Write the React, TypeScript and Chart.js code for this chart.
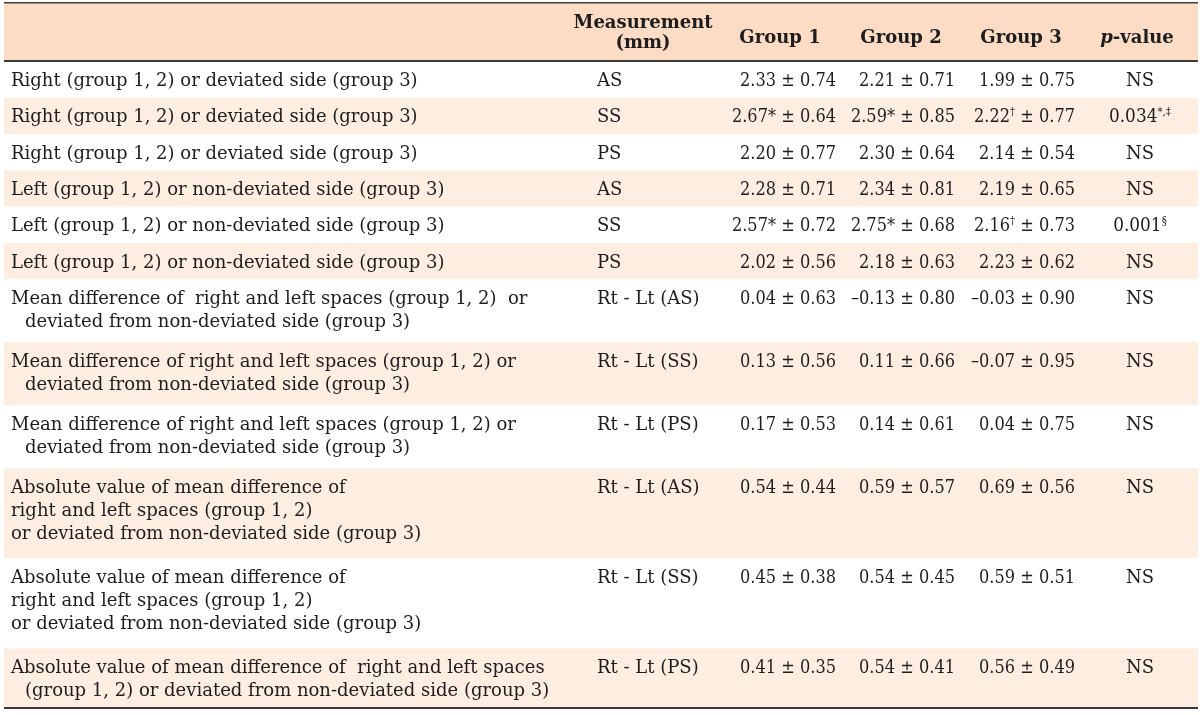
import { useEffect, useRef } from 'react';
import { Chart, registerables } from 'chart.js';

Chart.register(...registerables);

// ---------------- data ----------------
const headerLabels = ['Measurement\n(mm)', 'Group 1', 'Group 2', 'Group 3', 'p-value'];

const rowLabels = [
  'Right (group 1, 2) or deviated side (group 3)',
  'Right (group 1, 2) or deviated side (group 3)',
  'Right (group 1, 2) or deviated side (group 3)',
  'Left (group 1, 2) or non-deviated side (group 3)',
  'Left (group 1, 2) or non-deviated side (group 3)',
  'Left (group 1, 2) or non-deviated side (group 3)',
  'Mean difference of  right and left spaces (group 1, 2)  or\n deviated from non-deviated side (group 3)',
  'Mean difference of right and left spaces (group 1, 2) or\n deviated from non-deviated side (group 3)',
  'Mean difference of right and left spaces (group 1, 2) or\n deviated from non-deviated side (group 3)',
  'Absolute value of mean difference of\nright and left spaces (group 1, 2)\nor deviated from non-deviated side (group 3)',
  'Absolute value of mean difference of\nright and left spaces (group 1, 2)\nor deviated from non-deviated side (group 3)',
  'Absolute value of mean difference of  right and left spaces\n (group 1, 2) or deviated from non-deviated side (group 3)',
];

const measurements = ['AS', 'SS', 'PS', 'AS', 'SS', 'PS', 'Rt - Lt (AS)', 'Rt - Lt (SS)', 'Rt - Lt (PS)', 'Rt - Lt (AS)', 'Rt - Lt (SS)', 'Rt - Lt (PS)'];

const group1Mean = [2.33, 2.67, 2.2, 2.28, 2.57, 2.02, 0.04, 0.13, 0.17, 0.54, 0.45, 0.41];
const group1SD = [0.74, 0.64, 0.77, 0.71, 0.72, 0.56, 0.63, 0.56, 0.53, 0.44, 0.38, 0.35];
const group1Mark = ['', '*', '', '', '*', '', '', '', '', '', '', ''];

const group2Mean = [2.21, 2.59, 2.3, 2.34, 2.75, 2.18, -0.13, 0.11, 0.14, 0.59, 0.54, 0.54];
const group2SD = [0.71, 0.85, 0.64, 0.81, 0.68, 0.63, 0.8, 0.66, 0.61, 0.57, 0.45, 0.41];
const group2Mark = ['', '*', '', '', '*', '', '', '', '', '', '', ''];

const group3Mean = [1.99, 2.22, 2.14, 2.19, 2.16, 2.23, -0.03, -0.07, 0.04, 0.69, 0.59, 0.56];
const group3SD = [0.75, 0.77, 0.54, 0.65, 0.73, 0.62, 0.9, 0.95, 0.75, 0.56, 0.51, 0.49];
const group3Mark = ['', '\u2020', '', '', '\u2020', '', '', '', '', '', '', ''];

const pValues = ['NS', '0.034', 'NS', 'NS', '0.001', 'NS', 'NS', 'NS', 'NS', 'NS', 'NS', 'NS'];
const pMarks = ['', '*,\u2021', '', '', '\u00a7', '', '', '', '', '', '', ''];

// ---------------- layout / style ----------------
const FAMILY = '"DejaVu Serif", serif';
const FONT_SIZE = 18;
const SUP_SIZE = 11;
const SUP_RISE = 7;
const LINE_GAP = 23;
const FIRST_BASELINE = 25;
const INDENT = 14;
const VALUE_SX = 0.9;
const TEXT_COLOR = '#1f1c1d';
const HEADER_FILL = '#fcdcc4';
const STRIPE_FILL = '#feede1';
const RULE_COLOR = '#3c3a3a';

const HEADER_HEIGHT = 58;
const ROW_HEIGHTS = [36.33, 36.33, 36.34, 36.33, 36.33, 36.34, 63, 63, 63, 90, 90, 60];

// column anchors in table units (table spans 0..1194)
const COL_LABEL = 7;
const COL_MEAS = 593;
const COL_G1 = 832;
const COL_G2 = 951;
const COL_G3 = 1071;
const COL_P = 1136;
const HEAD_CENTERS = [639, 776, 897, 1017, 1133];
const HEAD_BASELINES_MEAS = [24.5, 44.5];
const HEAD_BASELINE = 39.5;

type Seg = { t: string; sup?: boolean; it?: boolean; b?: boolean };

function fmt(v: number): string {
  const s = Math.abs(v).toFixed(2);
  return v < 0 ? '\u2013' + s : s;
}

function valueSegs(mean: number, sd: number, mark: string): Seg[] {
  const segs: Seg[] = [{ t: fmt(mean) }];
  if (mark === '*') segs.push({ t: '*' });
  else if (mark) segs.push({ t: mark, sup: true });
  segs.push({ t: ' \u00b1 ' + sd.toFixed(2) });
  return segs;
}

function drawRich(
  ctx: CanvasRenderingContext2D,
  segs: Seg[],
  x: number,
  y: number,
  align: 'left' | 'right' | 'center',
  bold = false,
  sx = 1,
) {
  const fontFor = (s: Seg) => `${s.it ? 'italic ' : ''}${bold || s.b ? 'bold ' : ''}${s.sup ? SUP_SIZE : FONT_SIZE}px ${FAMILY}`;
  const widths = segs.map((s) => {
    ctx.font = fontFor(s);
    return ctx.measureText(s.t).width;
  });
  const total = widths.reduce((a, b) => a + b, 0);
  let cx = align === 'left' ? 0 : align === 'right' ? -total : -total / 2;
  ctx.save();
  ctx.translate(x, y);
  ctx.scale(sx, 1);
  segs.forEach((s, i) => {
    ctx.font = fontFor(s);
    ctx.fillText(s.t, cx, s.sup ? -SUP_RISE : 0);
    cx += widths[i];
  });
  ctx.restore();
}

const tablePlugin = {
  id: 'tableText',
  afterDatasetsDraw(chart: any) {
    const ctx: CanvasRenderingContext2D = chart.ctx;
    const y = chart.scales.y;
    const col = chart.scales.col;
    const X = (v: number) => col.getPixelForValue(v);
    const Y = (v: number) => y.getPixelForValue(v);
    const left = X(0);
    const right = X(1194);

    ctx.save();
    ctx.strokeStyle = RULE_COLOR;
    const rule = (py: number, w: number) => {
      ctx.lineWidth = w;
      ctx.beginPath();
      ctx.moveTo(left, py);
      ctx.lineTo(right, py);
      ctx.stroke();
    };
    rule(Y(0) - 0.25, 1.5);
    rule(Y(HEADER_HEIGHT), 2);

    ctx.fillStyle = TEXT_COLOR;
    ctx.textBaseline = 'alphabetic';
    ctx.textAlign = 'left';

    // header
    const measLines = headerLabels[0].split('\n');
    measLines.forEach((ln, i) => drawRich(ctx, [{ t: ln }], X(HEAD_CENTERS[0]), Y(HEAD_BASELINES_MEAS[i]), 'center', true));
    for (let c = 1; c < headerLabels.length; c++) {
      const lbl = headerLabels[c];
      const segs: Seg[] = lbl.startsWith('p-') ? [{ t: 'p', it: true }, { t: lbl.slice(1) }] : [{ t: lbl }];
      drawRich(ctx, segs, X(HEAD_CENTERS[c]), Y(HEAD_BASELINE), 'center', true);
    }

    // body
    let top = HEADER_HEIGHT;
    for (let r = 0; r < rowLabels.length; r++) {
      const base = top + FIRST_BASELINE;
      rowLabels[r].split('\n').forEach((ln, i) => {
        const indented = ln.startsWith(' ');
        drawRich(ctx, [{ t: ln.trim() }], X(COL_LABEL + (indented ? INDENT : 0)), Y(base + i * LINE_GAP), 'left');
      });
      drawRich(ctx, [{ t: measurements[r] }], X(COL_MEAS), Y(base), 'left');
      drawRich(ctx, valueSegs(group1Mean[r], group1SD[r], group1Mark[r]), X(COL_G1), Y(base), 'right', false, VALUE_SX);
      drawRich(ctx, valueSegs(group2Mean[r], group2SD[r], group2Mark[r]), X(COL_G2), Y(base), 'right', false, VALUE_SX);
      drawRich(ctx, valueSegs(group3Mean[r], group3SD[r], group3Mark[r]), X(COL_G3), Y(base), 'right', false, VALUE_SX);
      const pSegs: Seg[] = [{ t: pValues[r] }];
      if (pMarks[r]) pSegs.push({ t: pMarks[r], sup: true });
      drawRich(ctx, pSegs, X(COL_P), Y(base), 'center', false, pMarks[r] ? 0.94 : 1);
      top += ROW_HEIGHTS[r];
    }
    rule(Y(top), 2);
    ctx.restore();
  },
};

export default function App() {
  const ref = useRef<HTMLCanvasElement | null>(null);

  useEffect(() => {
    document.body.style.margin = '0';
    const canvas = ref.current;
    if (!canvas) return;
    const total = HEADER_HEIGHT + ROW_HEIGHTS.reduce((a, b) => a + b, 0);
    const datasets = [
      { label: 'header', data: [HEADER_HEIGHT], backgroundColor: HEADER_FILL },
      ...ROW_HEIGHTS.map((h, i) => ({
        label: `row ${i + 1}`,
        data: [h],
        backgroundColor: i % 2 === 1 ? STRIPE_FILL : '#ffffff',
      })),
    ].map((d) => ({ ...d, borderWidth: 0, barPercentage: 1, categoryPercentage: 1, stack: 'table' }));

    const chart = new Chart(canvas, {
      type: 'bar',
      data: { labels: ['table'], datasets },
      options: {
        animation: false,
        responsive: false,
        devicePixelRatio: 1,
        layout: { padding: { left: 4, right: 2, top: 3, bottom: 715 - 3 - total } },
        plugins: { legend: { display: false }, tooltip: { enabled: false }, title: { display: false } },
        events: [],
        scales: {
          x: { type: 'category', stacked: true, display: false },
          col: { type: 'linear', axis: 'x', position: 'bottom', min: 0, max: 1194, offset: false, grace: 0, display: false },
          y: { type: 'linear', stacked: true, reverse: true, min: 0, max: total, display: false },
        },
      },
      plugins: [tablePlugin],
    } as any);
    return () => chart.destroy();
  }, []);

  return (
    <div style={{ position: 'absolute', left: 0, top: 0, width: 1200, height: 715, background: '#fff' }}>
      <canvas ref={ref} width={1200} height={715} style={{ display: 'block' }} />
    </div>
  );
}
